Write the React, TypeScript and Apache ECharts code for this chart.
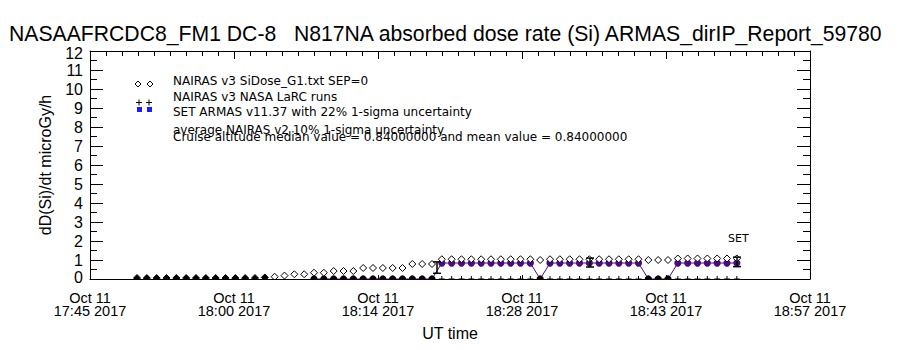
import React, { useEffect, useRef } from "react";
import * as echarts from "echarts";

// UT sample times (Oct 11 2017)
const times = [
  "17:50:18","17:51:17","17:52:16","17:53:15","17:54:14","17:55:13","17:56:12","17:57:11","17:58:10","17:59:09",
  "18:00:08","18:01:07","18:02:06","18:03:05","18:04:04","18:05:03","18:06:02","18:07:01","18:08:00","18:08:59",
  "18:09:58","18:10:57","18:11:56","18:12:55","18:13:54","18:14:53","18:15:52","18:16:51","18:17:50","18:18:49",
  "18:19:48","18:20:47","18:21:46","18:22:45","18:23:44","18:24:43","18:25:42","18:26:41","18:27:40","18:28:39",
  "18:29:38","18:30:37","18:31:36","18:32:35","18:33:34","18:34:33","18:35:32","18:36:31","18:37:30","18:38:29",
  "18:39:28","18:40:27","18:41:26","18:42:25","18:43:24","18:44:23","18:45:22","18:46:21","18:47:20","18:48:19",
  "18:49:18","18:50:17"
];

// NAIRAS v3 SiDose_G1.txt SEP=0 (diamonds)
const nairasG1 = [
  0.05,0.05,0.05,0.05,0.05,0.05,0.05,0.05,0.05,0.05,
  0.05,0.05,0.05,0.08,0.12,0.18,0.25,0.25,0.33,0.33,
  0.42,0.42,0.42,0.58,0.58,0.58,0.58,0.58,0.79,0.79,
  0.79,1.04,1.04,1.04,1.04,1.04,1.04,1.04,1.04,1.04,
  1.04,1.0,1.04,1.04,1.04,1.04,1.04,1.04,1.04,1.04,
  1.04,1.04,1.0,1.0,1.0,1.08,1.08,1.08,1.08,1.08,
  1.08,1.08
];

// SET ARMAS v11.37 (purple line with dots)
const armasSet = [
  null,null,null,null,null,null,null,null,null,null,
  null,null,null,null,null,null,null,null,0,0,
  0,0,0,0,0,0,0,0,0,0,
  0,0.84,0.84,0.84,0.84,0.84,0.84,0.84,0.84,0.84,
  0.84,0,0.84,0.84,0.84,0.84,0.84,0.84,0.84,0.84,
  0.84,0.84,0,0,0,0.84,0.84,0.84,0.84,0.84,
  0.84,0.84
];

// NAIRAS v3 NASA LaRC runs (plus signs)
const larcRuns = [
  null,null,null,null,null,null,null,null,null,null,
  null,null,null,null,null,null,null,null,null,null,
  null,null,null,null,null,null,null,null,null,null,
  null,0,0,0,0,0,0,0,0,0,
  0,0,0,0,0,0,0,0,0,0,
  0,0,0,0,0,0,0,0,0,0,
  0,0
];

// ARMAS 1-sigma uncertainty bars
const errTimes = ["18:20:18", "18:35:36", "18:50:18"];
const errLow = [0.3, 0.63, 0.65];
const errHigh = [0.9, 1.1, 1.15];

const xTickTimes = ["17:45", "18:00", "18:14", "18:28", "18:43", "18:57"];
const startTime = "17:45:36";
const endTime = "18:57:36";

const toSec = (s: string) => {
  const [h, m, sec] = s.split(":").map(Number);
  return h * 3600 + m * 60 + (sec || 0);
};
const toMin = (s: string) => (toSec(s) - toSec(startTime)) / 60;

const PURPLE = "#4a0a80";
const BLUE = "#1c1cff";
const FONT = "Liberation Sans";
const LFONT = "DejaVu Sans";

export default function App() {
  const ref = useRef<HTMLDivElement>(null);
  useEffect(() => {
    if (!ref.current) return;
    const chart = echarts.init(ref.current, null, { renderer: "svg" });
    const xMax = toMin(endTime);
    const step = xMax / (xTickTimes.length - 1);

    const diamondData = times.map((t, i) => [toMin(t), nairasG1[i]]);
    const armasLine = times.map((t, i) => [toMin(t), armasSet[i]]);
    const armasDots = times
      .map((t, i) => [toMin(t), armasSet[i]])
      .filter((d) => d[1] !== null);
    const larcData = times
      .map((t, i) => [toMin(t), larcRuns[i]])
      .filter((d) => d[1] !== null);
    const errData = errTimes.map((t, i) => [toMin(t), errLow[i], errHigh[i]]);

    const diamond = (x: number, y: number, r: number) => [
      [x, y - r], [x + r, y], [x, y + r], [x - r, y],
    ];

    const option: any = {
      animation: false,
      backgroundColor: "#fff",
      title: {
        text: "NASAAFRCDC8_FM1 DC-8   N817NA absorbed dose rate (Si) ARMAS_dirIP_Report_59780",
        left: 4,
        top: 18,
        textStyle: { fontFamily: FONT, fontSize: 21.2, fontWeight: "normal", color: "#000" },
      },
      grid: { left: 90, right: 90, top: 51, bottom: 71, containLabel: false },
      xAxis: [
        {
          type: "value",
          position: "bottom",
          min: 0,
          max: xMax,
          interval: step,
          name: "UT time",
          nameLocation: "middle",
          nameGap: 46,
          nameTextStyle: { fontFamily: FONT, fontSize: 16, color: "#000" },
          axisLine: { show: true, lineStyle: { color: "#000", width: 1 } },
          axisTick: { show: true, inside: true, length: 4, lineStyle: { color: "#000" } },
          minorTick: { show: false },
          splitLine: { show: false },
          axisLabel: {
            fontFamily: FONT,
            fontSize: 14.5,
            lineHeight: 13,
            color: "#000",
            margin: 12,
            showMinLabel: true,
            showMaxLabel: true,
            formatter: (v: number) => {
              const idx = Math.round(v / step);
              return "Oct 11\n" + xTickTimes[idx] + " 2017";
            },
          },
        },
        {
          type: "value",
          position: "top",
          min: 0,
          max: xMax,
          interval: step,
          axisLine: { show: true, onZero: false, lineStyle: { color: "#000", width: 1 } },
          axisTick: { show: true, inside: true, length: 8, lineStyle: { color: "#000" } },
          minorTick: { show: true, splitNumber: 9, length: 5, lineStyle: { color: "#000" } },
          axisLabel: { show: false },
          splitLine: { show: false },
        },
      ],
      yAxis: [
        {
          type: "value",
          position: "left",
          min: 0,
          max: 12,
          interval: 1,
          name: "dD(Si)/dt microGy/h",
          nameLocation: "middle",
          nameGap: 37,
          nameRotate: 90,
          nameTextStyle: { fontFamily: FONT, fontSize: 16, color: "#000" },
          axisLine: { show: true, lineStyle: { color: "#000", width: 1 } },
          axisTick: { show: true, inside: true, length: 13, lineStyle: { color: "#000" } },
          minorTick: { show: true, splitNumber: 2, length: 7, lineStyle: { color: "#000" } },
          axisLabel: {
            fontFamily: FONT,
            fontSize: 16,
            lineHeight: 14,
            color: "#000",
            margin: 7,
            showMinLabel: true,
            showMaxLabel: true,
            hideOverlap: false,
            formatter: (v: number) => (v === 0 ? "{lo|0}" : v === 12 ? "{hi|12}" : String(v)),
            rich: {
              lo: { fontFamily: FONT, fontSize: 16, lineHeight: 14, color: "#000", padding: [0, 0, 4, 0] },
              hi: { fontFamily: FONT, fontSize: 16, lineHeight: 14, color: "#000", padding: [4, 0, 0, 0] },
            },
          },
          splitLine: { show: false },
        },
        {
          type: "value",
          position: "right",
          min: 0,
          max: 12,
          interval: 1,
          axisLine: { show: true, onZero: false, lineStyle: { color: "#000", width: 1 } },
          axisTick: { show: true, inside: true, length: 13, lineStyle: { color: "#000" } },
          minorTick: { show: true, splitNumber: 2, length: 7, lineStyle: { color: "#000" } },
          axisLabel: { show: false },
          splitLine: { show: false },
        },
      ],
      series: [
        {
          name: "SET ARMAS v11.37 with 22% 1-sigma uncertainty",
          type: "line",
          data: armasLine,
          showSymbol: false,
          symbol: "none",
          connectNulls: false,
          lineStyle: { color: PURPLE, width: 1 },
          z: 2,
        },
        {
          name: "SET ARMAS dots",
          type: "custom",
          data: armasDots,
          clip: true,
          z: 3,
          renderItem: (_p: any, api: any) => {
            const c = api.coord([api.value(0), api.value(1)]);
            return {
              type: "circle",
              shape: { cx: c[0], cy: c[1], r: 3.6 },
              style: { fill: api.value(1) === 0 ? "#000" : PURPLE },
            };
          },
        },
        {
          name: "NAIRAS v3 NASA LaRC runs",
          type: "custom",
          data: larcData,
          clip: true,
          z: 4,
          renderItem: (_p: any, api: any) => {
            const c = api.coord([api.value(0), api.value(1)]);
            const r = 3;
            return {
              type: "group",
              children: [
                { type: "line", shape: { x1: c[0] - r, y1: c[1], x2: c[0] + r, y2: c[1] }, style: { stroke: "#000", lineWidth: 1 } },
                { type: "line", shape: { x1: c[0], y1: c[1] - r, x2: c[0], y2: c[1] + r }, style: { stroke: "#000", lineWidth: 1 } },
              ],
            };
          },
        },
        {
          name: "NAIRAS v3 SiDose_G1.txt SEP=0",
          type: "custom",
          data: diamondData,
          clip: true,
          z: 5,
          renderItem: (_p: any, api: any) => {
            const v = api.value(1);
            const c = api.coord([api.value(0), v]);
            return {
              type: "polygon",
              shape: { points: diamond(c[0], c[1], 3.5) },
              style: { fill: v < 0.1 ? "#000" : "#fff", stroke: "#000", lineWidth: 1 },
            };
          },
        },
        {
          name: "ARMAS uncertainty",
          type: "custom",
          data: errData,
          clip: true,
          z: 6,
          renderItem: (_p: any, api: any) => {
            const lo = api.coord([api.value(0), api.value(1)]);
            const hi = api.coord([api.value(0), api.value(2)]);
            const w = 4;
            const st = { stroke: "#000", lineWidth: 1.5 };
            return {
              type: "group",
              children: [
                { type: "line", shape: { x1: lo[0], y1: lo[1], x2: hi[0], y2: hi[1] }, style: st },
                { type: "line", shape: { x1: lo[0] - w, y1: lo[1], x2: lo[0] + w, y2: lo[1] }, style: st },
                { type: "line", shape: { x1: hi[0] - w, y1: hi[1], x2: hi[0] + w, y2: hi[1] }, style: st },
              ],
            };
          },
        },
      ],
      graphic: [
        { type: "polygon", shape: { points: diamond(138, 84, 3) }, style: { fill: "#fff", stroke: "#000", lineWidth: 1 } },
        { type: "polygon", shape: { points: diamond(150, 84, 3) }, style: { fill: "#fff", stroke: "#000", lineWidth: 1 } },
        { type: "line", shape: { x1: 136, y1: 102.5, x2: 142, y2: 102.5 }, style: { stroke: "#000", lineWidth: 1 } },
        { type: "line", shape: { x1: 139, y1: 99.5, x2: 139, y2: 105.5 }, style: { stroke: "#000", lineWidth: 1 } },
        { type: "line", shape: { x1: 146, y1: 102.5, x2: 152, y2: 102.5 }, style: { stroke: "#000", lineWidth: 1 } },
        { type: "line", shape: { x1: 149, y1: 99.5, x2: 149, y2: 105.5 }, style: { stroke: "#000", lineWidth: 1 } },
        { type: "rect", shape: { x: 137, y: 107, width: 5, height: 5 }, style: { fill: BLUE } },
        { type: "rect", shape: { x: 147, y: 107, width: 5, height: 5 }, style: { fill: BLUE } },
        { type: "text", x: 173, y: 80.5, style: { text: "NAIRAS v3 SiDose_G1.txt SEP=0", font: `12px '${LFONT}'`, fill: "#000", verticalAlign: "middle" } },
        { type: "text", x: 173, y: 96.5, style: { text: "NAIRAS v3 NASA LaRC runs", font: `12px '${LFONT}'`, fill: "#000", verticalAlign: "middle" } },
        { type: "text", x: 173, y: 112, style: { text: "SET ARMAS v11.37 with 22% 1-sigma uncertainty", font: `12px '${LFONT}'`, fill: "#000", verticalAlign: "middle" } },
        { type: "text", x: 173, y: 129.5, style: { text: "average NAIRAS v2 10% 1-sigma uncertainty", font: `12px '${LFONT}'`, fill: "#000", verticalAlign: "middle" } },
        { type: "text", x: 173, y: 137, style: { text: "Cruise altitude median value = 0.84000000 and mean value = 0.84000000", font: `12px '${LFONT}'`, fill: "#000", verticalAlign: "middle" } },
        { type: "text", x: 728, y: 238.5, style: { text: "SET", font: `11px '${LFONT}'`, fill: "#000", verticalAlign: "middle" } },
      ],
    };
    chart.setOption(option);
    return () => chart.dispose();
  }, []);
  return (
    <div
      ref={ref}
      style={{ position: "fixed", left: 0, top: 0, width: 900, height: 350, background: "#fff" }}
    />
  );
}
